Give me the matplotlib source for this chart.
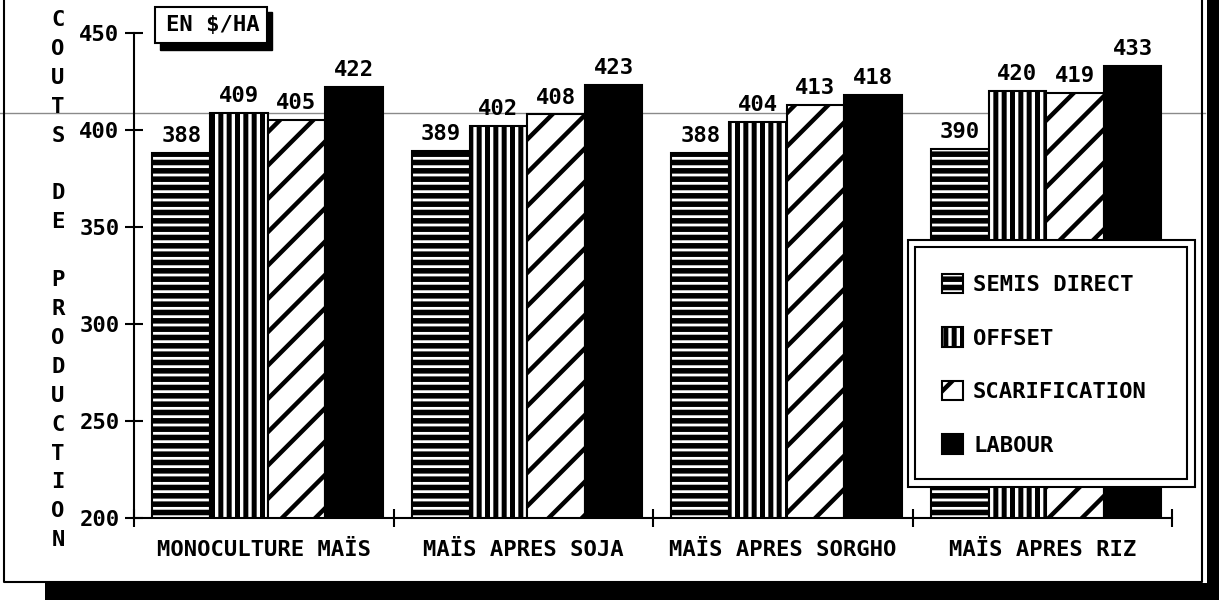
import numpy as np
import matplotlib
matplotlib.use('Agg')
import matplotlib.pyplot as plt
from matplotlib.patches import Rectangle, Patch
from matplotlib.lines import Line2D

# Data
categories = ['MONOCULTURE MAÏS', 'MAÏS APRES SOJA', 'MAÏS APRES SORGHO', 'MAÏS APRES RIZ']
series = ['SEMIS DIRECT', 'OFFSET', 'SCARIFICATION', 'LABOUR']
semis_direct = [388, 389, 388, 390]
offset = [409, 402, 404, 420]
scarification = [405, 408, 413, 419]
labour = [422, 423, 418, 433]
yticks = [200, 250, 300, 350, 400, 450]
ylabel = 'COUTS DE PRODUCTION'
unit = 'EN $/HA'

FONT = 'DejaVu Sans Mono'
plt.rcParams['font.family'] = FONT
plt.rcParams['font.weight'] = 'bold'

W, H = 1219, 600
fig = plt.figure(figsize=(W / 100, H / 100), dpi=100)

def fx(px):
    return px / W

def fy(py):
    return 1 - py / H

# scan artifact line behind everything
fig.add_artist(Line2D([0, fx(1205)], [fy(113), fy(113)], color='#8a8a8a', lw=1, zorder=-5))

ax = fig.add_axes([fx(134), fy(518), fx(1172 - 134), (518 - 33) / H])
ax.patch.set_alpha(0)

values = [semis_direct, offset, scarification, labour]
hatches = ['--', '||', '/', None]
hatch_lw = [4.0, 3.6, 3.2, 1.0]
bw = 0.222
x = np.arange(len(categories)) + 0.5
handles = []
for i, (vals, h, hl) in enumerate(zip(values, hatches, hatch_lw)):
    pos = x + 0.015 + (i - 1.5) * bw
    with plt.rc_context({'hatch.linewidth': hl, 'hatch.color': 'black'}):
        face = 'black' if h is None else 'white'
        bars = ax.bar(pos, vals, width=bw, bottom=0, color=face, edgecolor='black',
                      linewidth=1.5, hatch=h, zorder=2)
        for b in bars:
            if hasattr(b, 'set_hatch_linewidth'):
                b.set_hatch_linewidth(hl)
        ax.bar_label(bars, padding=5, fontsize=16, fontweight='bold')
        handles.append(Patch(facecolor=face, edgecolor='black', linewidth=1.5,
                             hatch=h, label=series[i]))

ax.set_xlim(0, 4)
ax.set_ylim(200, 450)
for s in ['top', 'right']:
    ax.spines[s].set_visible(False)
for s in ['left', 'bottom']:
    ax.spines[s].set_linewidth(1.5)

ax.set_yticks(yticks)
ax.set_yticklabels([str(t) for t in yticks], fontsize=16, fontweight='bold')
ax.set_xticks(range(5))
ax.set_xticklabels([])
ax.set_xticks(x, categories, minor=True)
ax.tick_params(axis='both', which='major', direction='inout', length=13, width=1.5)
ax.tick_params(axis='y', pad=4)
ax.tick_params(axis='x', which='minor', length=0, pad=16, labelsize=16)
for t in ax.get_xticklabels(minor=True):
    t.set_fontweight('bold')

# stacked vertical axis title
for i, ch in enumerate(ylabel):
    fig.text(fx(58), fy(20 + i * 28.9), ch, ha='center', va='center',
             fontsize=16, fontweight='bold')

# unit box with shadow
fig.add_artist(Rectangle((fx(160), fy(50)), fx(112), (50 - 12) / H,
                         facecolor='black', edgecolor='black', zorder=3))
fig.add_artist(Rectangle((fx(155), fy(43)), fx(112), (43 - 7) / H,
                         facecolor='white', edgecolor='black', lw=1.5, zorder=4))
fig.text(fx(213), fy(25), unit, ha='center', va='center', fontsize=16,
         fontweight='bold', zorder=5)

# legend with double frame
fig.add_artist(Rectangle((fx(908), fy(487)), fx(1195 - 908), (487 - 240) / H,
                         facecolor='white', edgecolor='black', lw=1.5, zorder=6))
fig.add_artist(Rectangle((fx(915), fy(479)), fx(1187 - 915), (479 - 247) / H,
                         facecolor='white', edgecolor='black', lw=1.5, zorder=7))
leg = fig.legend(handles=handles, loc='upper left', bbox_to_anchor=(fx(942), fy(274)),
                 frameon=False, fontsize=16, handlelength=0.95, handleheight=0.95,
                 handletextpad=0.45, labelspacing=1.45, borderpad=0, borderaxespad=0)
leg.set_zorder(8)
for t in leg.get_texts():
    t.set_fontweight('bold')
for lh, hl in zip(leg.legend_handles, hatch_lw):
    if hasattr(lh, 'set_hatch_linewidth'):
        lh.set_hatch_linewidth(hl)

# outer frame and black shadow
fig.add_artist(Line2D([fx(4), fx(4), fx(1202), fx(1202)], [1, fy(582), fy(582), 1],
                      color='black', lw=1.5, zorder=9))
fig.add_artist(Rectangle((fx(45), 0), fx(W - 45), (600 - 583) / H,
                         facecolor='black', edgecolor='none', zorder=9))
fig.add_artist(Rectangle((fx(1207), 0), fx(W - 1207), 1,
                         facecolor='black', edgecolor='none', zorder=9))

fig.savefig('out.png', dpi=100, facecolor='white')
